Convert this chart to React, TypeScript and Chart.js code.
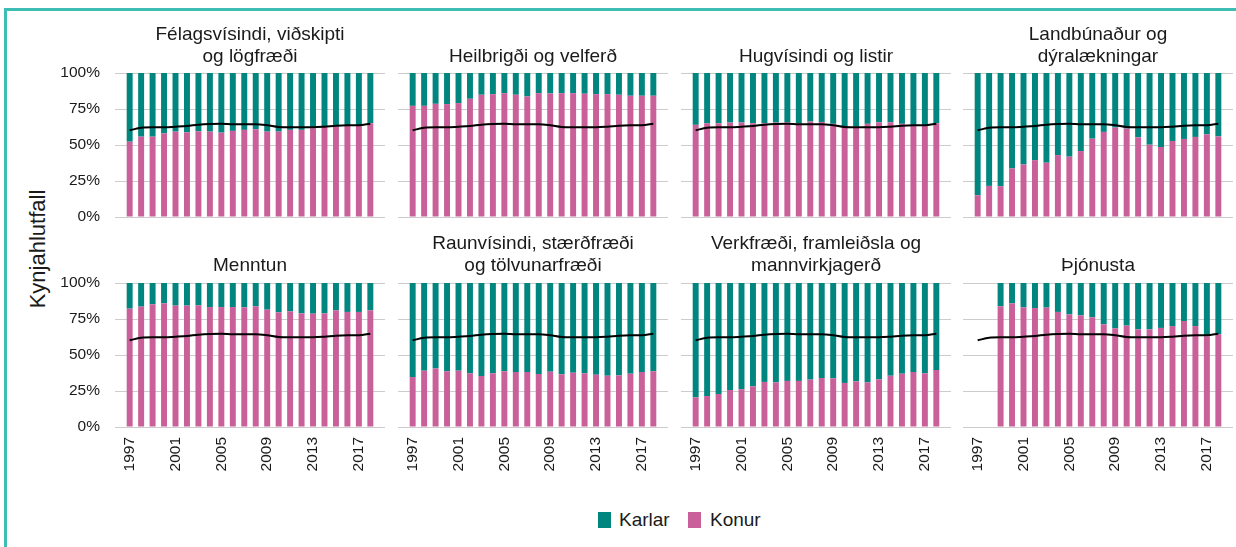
import React, { useEffect, useRef } from 'react';
import { Chart, registerables } from 'chart.js';

Chart.register(...registerables);

// ---------- DATA ----------
const years = [1997, 1998, 1999, 2000, 2001, 2002, 2003, 2004, 2005, 2006, 2007, 2008, 2009, 2010, 2011, 2012, 2013, 2014, 2015, 2016, 2017, 2018];
const xTickYears = [1997, 2001, 2005, 2009, 2013, 2017];
const yTickValues = [0, 25, 50, 75, 100];

// Overall share of women (black line, same in every panel)
const heildKonur = [60.2, 62.0, 62.3, 62.3, 62.7, 63.2, 64.1, 64.6, 64.8, 64.4, 64.4, 64.4, 63.7, 62.5, 62.3, 62.3, 62.3, 62.7, 63.4, 63.7, 63.7, 64.8];

// Share of women (Konur) per field; Karlar = remainder of 100%
const felagsvisindiKonur = [52.3, 55.8, 55.8, 58.1, 59.3, 58.8, 59.5, 59.3, 58.6, 59.8, 60.5, 60.9, 59.3, 59.3, 60.5, 60.5, 61.6, 62.8, 62.8, 63.3, 63.7, 65.1];
const heilbrigdiKonur = [77.2, 77.2, 78.6, 78.4, 79.1, 82.1, 84.9, 85.3, 86.0, 84.9, 83.7, 86.0, 85.8, 86.0, 86.0, 85.6, 85.3, 85.3, 84.9, 84.2, 84.2, 84.2];
const hugvisindiKonur = [64.0, 65.1, 65.1, 65.6, 65.6, 65.1, 65.1, 65.6, 65.8, 65.1, 66.3, 66.0, 64.7, 62.8, 62.8, 64.7, 65.8, 65.8, 64.7, 64.0, 64.0, 65.1];
const landbunadurKonur = [15.1, 21.6, 21.4, 33.7, 36.5, 39.5, 37.7, 43.0, 41.9, 45.8, 54.4, 59.1, 62.1, 61.4, 55.3, 50.2, 48.6, 52.8, 54.2, 55.6, 57.4, 56.0];
const menntunKonur = [82.2, 83.6, 85.2, 85.9, 84.3, 84.3, 84.5, 83.3, 83.3, 83.3, 83.1, 83.8, 81.5, 79.6, 80.3, 78.9, 78.7, 78.9, 81.0, 79.9, 79.9, 81.0];
const raunvisindiKonur = [34.7, 39.1, 40.7, 38.7, 39.1, 37.3, 35.4, 37.3, 38.7, 38.2, 38.2, 36.8, 38.4, 36.6, 37.7, 37.3, 36.3, 35.6, 35.9, 37.0, 38.2, 38.7];
const verkfraediKonur = [20.6, 21.5, 22.9, 25.7, 26.2, 28.2, 31.3, 31.0, 32.0, 32.0, 32.9, 34.0, 33.8, 30.6, 31.7, 31.0, 33.1, 35.6, 37.0, 38.2, 37.3, 39.6];
const thjonustaKonur = [null, null, 83.8, 85.9, 83.1, 82.6, 82.9, 79.9, 78.2, 77.5, 76.2, 71.3, 68.5, 70.4, 67.8, 67.8, 68.8, 70.1, 73.6, 70.1, 63.0, 64.4];

const panelTitles = [
  ['Félagsvísindi, viðskipti', 'og lögfræði'],
  ['Heilbrigði og velferð'],
  ['Hugvísindi og listir'],
  ['Landbúnaður og', 'dýralækningar'],
  ['Menntun'],
  ['Raunvísindi, stærðfræði', 'og tölvunarfræði'],
  ['Verkfræði, framleiðsla og', 'mannvirkjagerð'],
  ['Þjónusta'],
];
const panelKonur = [
  felagsvisindiKonur, heilbrigdiKonur, hugvisindiKonur, landbunadurKonur,
  menntunKonur, raunvisindiKonur, verkfraediKonur, thjonustaKonur,
];

const seriesLabels = ['Karlar', 'Konur'];
const yAxisTitle = 'Kynjahlutfall';

// ---------- STYLE ----------
const TEAL = '#00857f';
const PINK = '#c9609a';
const FONT = "'Liberation Sans', Arial, Helvetica, sans-serif";
const TEXT = '#1a1a1a';

const COL_X = [115, 398, 681, 963];
const PLOT_W = 270;

function Panel({ idx }: { idx: number }) {
  const ref = useRef<HTMLCanvasElement | null>(null);
  const col = idx % 4;
  const row = Math.floor(idx / 4);
  const left = col === 0 ? 40 : COL_X[col];
  const right = COL_X[col] + PLOT_W;
  const top = row === 0 ? 20 : 229;
  const bottom = row === 0 ? 227 : 490;
  const width = right - left;
  const height = bottom - top;
  const title = panelTitles[idx];
  const konur = panelKonur[idx];

  useEffect(() => {
    const canvas = ref.current;
    if (!canvas) return;
    const chart = new Chart(canvas, {
      type: 'bar',
      data: {
        datasets: [
          {
            type: 'bar',
            label: seriesLabels[1],
            data: years.map((yr, i) => ({ x: yr, y: konur[i] })),
            backgroundColor: PINK,
            barPercentage: 0.52,
            categoryPercentage: 1,
            order: 1,
          },
          {
            type: 'bar',
            label: seriesLabels[0],
            data: years.map((yr, i) => ({ x: yr, y: konur[i] == null ? null : 100 - (konur[i] as number) })),
            backgroundColor: TEAL,
            barPercentage: 0.52,
            categoryPercentage: 1,
            order: 1,
          },
          {
            type: 'line',
            label: 'Heild',
            data: years.map((yr, i) => ({ x: yr, y: heildKonur[i] })),
            borderColor: '#000000',
            borderWidth: 2,
            pointRadius: 0,
            cubicInterpolationMode: 'monotone',
            order: 0,
          } as any,
        ],
      },
      options: {
        responsive: false,
        animation: false,
        events: [],
        layout: { padding: { top: 0, left: 0, right: 0, bottom: row === 0 ? 10 : 0 } },
        plugins: {
          legend: { display: false },
          tooltip: { enabled: false },
          title: {
            display: true,
            text: title,
            fullSize: false,
            color: TEXT,
            font: { family: FONT, size: 19, weight: 'normal', lineHeight: 22 / 19 },
            padding: { top: title.length === 2 ? 4 : 26, bottom: row === 0 ? 5 : 6 },
          },
        },
        scales: {
          x: {
            type: 'linear',
            stacked: true,
            offset: false,
            min: 1997 - 1.28,
            max: 2018 + 1.28,
            display: row === 1,
            afterBuildTicks: (s: any) => {
              s.ticks = xTickYears.map((v) => ({ value: v }));
            },
            afterFit: (s: any) => {
              if (row === 1) s.height = 63;
              s.paddingLeft = 0;
              s.paddingRight = 0;
            },
            ticks: {
              autoSkip: false,
              minRotation: 90,
              maxRotation: 90,
              padding: 10,
              color: TEXT,
              font: { family: FONT, size: 15.5 },
              callback: (v: any) => String(v),
            },
            grid: { display: false, drawTicks: false },
            border: { display: false },
          },
          y: {
            stacked: true,
            min: 0,
            max: 100,
            afterBuildTicks: (s: any) => {
              s.ticks = yTickValues.map((v) => ({ value: v }));
            },
            afterFit: (s: any) => {
              s.width = col === 0 ? 75 : 0;
              s.paddingTop = 0;
              s.paddingBottom = 0;
            },
            ticks: {
              display: col === 0,
              autoSkip: false,
              padding: 15,
              color: TEXT,
              font: { family: FONT, size: 15.5 },
              callback: (v: any) => v + '%',
            },
            grid: { color: '#cccccc', lineWidth: 1, drawTicks: false },
            border: { display: false },
          },
        },
      } as any,
    });
    return () => chart.destroy();
  }, []);

  return (
    <canvas
      ref={ref}
      width={width}
      height={height}
      style={{ position: 'absolute', left, top, width, height }}
    />
  );
}

const legendPos = [
  { sq: 598, tx: 619 },
  { sq: 688, tx: 710 },
];

export default function App() {
  return (
    <div
      style={{
        position: 'absolute',
        left: 0,
        top: 0,
        width: 1236,
        height: 547,
        overflow: 'hidden',
        background: '#ffffff',
        fontFamily: FONT,
      }}
    >
      <div
        style={{
          position: 'absolute',
          left: 4,
          top: 8,
          width: 1240,
          height: 560,
          borderTop: '3px solid #3ebdb4',
          borderLeft: '3px solid #3ebdb4',
        }}
      />
      <div
        style={{
          position: 'absolute',
          left: 36.5,
          top: 249,
          transform: 'translate(-50%, -50%) rotate(-90deg)',
          fontSize: 22,
          lineHeight: '25px',
          color: TEXT,
          whiteSpace: 'nowrap',
        }}
      >
        {yAxisTitle}
      </div>
      {panelTitles.map((_, i) => (
        <Panel key={i} idx={i} />
      ))}
      {[TEAL, PINK].map((c, i) => (
        <React.Fragment key={i}>
          <div
            style={{
              position: 'absolute',
              left: legendPos[i].sq,
              top: 512,
              width: 13,
              height: 16,
              background: c,
            }}
          />
          <div
            style={{
              position: 'absolute',
              left: legendPos[i].tx,
              top: 509,
              fontSize: 19,
              lineHeight: '22px',
              color: TEXT,
              whiteSpace: 'nowrap',
            }}
          >
            {seriesLabels[i]}
          </div>
        </React.Fragment>
      ))}
    </div>
  );
}
